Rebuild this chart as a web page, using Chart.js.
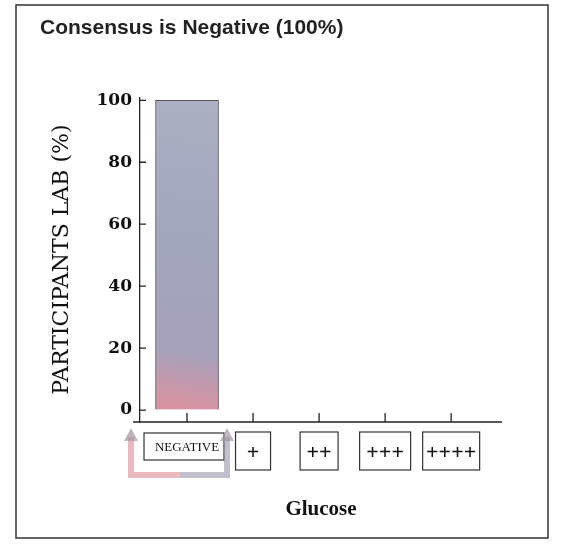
<!DOCTYPE html>
<html>
<head>
<meta charset="utf-8">
<script src="https://cdn.jsdelivr.net/npm/chart.js@4"></script>
<style>
  html, body { margin: 0; padding: 0; background: #fff; }
  #wrap { width: 561px; height: 546px; }
</style>
</head>
<body>
<div id="wrap"><canvas id="myChart" width="561" height="546"></canvas></div>
<script>
const categories = ['NEGATIVE', '+', '++', '+++', '++++']
const percentages = [100, 0, 0, 0, 0]
const yTicks = [0, 20, 40, 60, 80, 100]

const titleText = 'Consensus is Negative (100%)'
const yTitle = 'PARTICIPANTS LAB (%)'
const xTitle = 'Glucose'

let barFill = (ctx) => {
  let area = ctx.chart.chartArea
  if (!area) return '#a9aabf'
  let g = ctx.chart.ctx.createLinearGradient(area.left + 20, area.bottom, area.left + 70, area.top)
  g.addColorStop(0, '#e38d97')
  g.addColorStop(0.1, '#cc97a8')
  g.addColorStop(0.22, '#a6a1ba')
  g.addColorStop(0.5, '#a3a5bb')
  g.addColorStop(1, '#abb0c3')
  return g
}

// frame, inside ticks, label boxes and the bracket round NEGATIVE
const decorations = {
  id: 'decorations',
  afterDraw(chart) {
    let c = chart.ctx
    let x = chart.scales.x, y = chart.scales.y
    let area = chart.chartArea
    c.save()

    c.strokeStyle = '#333'
    c.lineWidth = 1.5
    c.strokeRect(16, 5, 532, 533)

    c.strokeStyle = '#222'
    c.lineWidth = 1.3
    c.beginPath()
    c.moveTo(133, area.bottom)
    c.lineTo(area.right, area.bottom)
    yTicks.forEach(v => {
      let py = y.getPixelForValue(v)
      c.moveTo(area.left, py)
      c.lineTo(area.left + 6, py)
    })
    categories.forEach((lab, i) => {
      let px = x.getPixelForValue(i)
      c.moveTo(px, area.bottom)
      c.lineTo(px, area.bottom - 9)
    })
    c.stroke()

    // boxes round the category labels
    let boxW = [80, 35, 38, 51, 57]
    c.lineWidth = 1.2
    c.strokeStyle = '#333'
    categories.forEach((lab, i) => {
      let px = x.getPixelForValue(i)
      let small = i === 0
      let h = small ? 27 : 38
      let cy = small ? 446.5 : 451
      let cx = small ? px - 3 : px
      c.strokeRect(cx - boxW[i] / 2, cy - h / 2, boxW[i], h)
    })

    // bracket
    c.lineWidth = 6
    c.lineCap = 'butt'
    c.strokeStyle = 'rgba(222,140,150,0.6)'
    c.beginPath()
    c.moveTo(131, 437)
    c.lineTo(131, 475)
    c.lineTo(180, 475)
    c.stroke()
    c.strokeStyle = 'rgba(150,150,170,0.6)'
    c.beginPath()
    c.moveTo(180, 475)
    c.lineTo(227, 475)
    c.lineTo(227, 437)
    c.stroke()
    c.fillStyle = 'rgba(165,150,165,0.7)'
    ;[131, 227].forEach(ax => {
      c.beginPath()
      c.moveTo(ax - 7, 441)
      c.lineTo(ax, 428)
      c.lineTo(ax + 7, 441)
      c.closePath()
      c.fill()
    })
    c.restore()
  }
}

let ctx = document.getElementById('myChart')
new Chart(ctx, {
  type: 'bar',
  data: {
    datasets: [{
      data: percentages.map((v, i) => ({ x: i, y: v })),
      backgroundColor: barFill,
      borderColor: '#555',
      borderWidth: 1,
      barThickness: 63
    }]
  },
  options: {
    responsive: false,
    animation: false,
    layout: { padding: { left: 40, right: 59, top: 0, bottom: 0 } },
    plugins: {
      legend: { display: false },
      tooltip: { enabled: false },
      title: {
        display: true,
        text: titleText,
        align: 'start',
        color: '#222',
        font: { family: '"Liberation Sans", Arial, sans-serif', size: 21, weight: 'bold' },
        padding: { top: 16, bottom: 56 }
      }
    },
    scales: {
      x: {
        type: 'linear',
        min: -0.712,
        max: 4.77,
        offset: false,
        afterFit: (s) => { s.height = 124 },
        border: { display: false },
        grid: { display: false, drawTicks: false },
        ticks: {
          stepSize: 1,
          includeBounds: false,
          autoSkip: false,
          maxRotation: 0,
          padding: 18,
          color: '#111',
          font: (c) => c.index === 0
            ? { family: '"Liberation Serif", serif', size: 13 }
            : { family: '"Liberation Serif", serif', size: 22, weight: 'bold' },
          callback: (v) => categories[v]
        },
        title: {
          display: true,
          text: xTitle,
          color: '#111',
          font: { family: '"Liberation Serif", serif', size: 21, weight: 'bold' },
          padding: { top: 0, bottom: 24 }
        }
      },
      y: {
        min: -3.86,
        max: 101,
        afterFit: (s) => { s.width = 100 },
        border: { display: true, color: '#222', width: 1.3 },
        grid: { display: true, drawOnChartArea: false, drawTicks: false },
        ticks: {
          stepSize: 20,
          includeBounds: false,
          padding: 8,
          color: '#111',
          font: { family: '"DejaVu Serif", serif', size: 17, weight: 'bold' }
        },
        title: {
          display: true,
          text: yTitle,
          color: '#111',
          font: { family: '"DejaVu Serif", serif', size: 22 },
          padding: { top: 9 }
        }
      }
    }
  },
  plugins: [decorations]
})
</script>
</body>
</html>
